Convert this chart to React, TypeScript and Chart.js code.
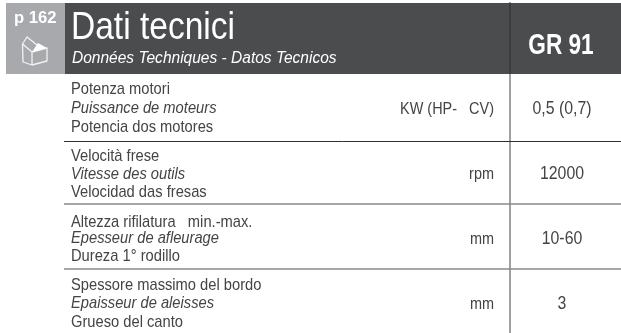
import React, { useEffect, useRef } from "react";
import { Chart, registerables } from "chart.js";

Chart.register(...registerables);

const pageRef = "p 162";
const title = "Dati tecnici";
const subtitle = "Données Techniques - Datos Tecnicos";
const model = "GR 91";
const rowItalian = ["Potenza motori", "Velocità frese", "Altezza rifilatura   min.-max.", "Spessore massimo del bordo"];
const rowFrench = ["Puissance de moteurs", "Vitesse des outils", "Epesseur de afleurage", "Epaisseur de aleisses"];
const rowSpanish = ["Potencia dos motores", "Velocidad das fresas", "Dureza 1° rodillo", "Grueso del canto"];
const units = ["KW (HP-   CV)", "rpm", "mm", "mm"];
const values = ["0,5 (0,7)", "12000", "10-60", "3"];

const W = 621;
const H = 333;
const FONT = "'Liberation Sans'";
const TEXT = "#444446";
const rowBase = [94, 161, 227, 290];
const lineGap = [19, 18, 16, 18];
const lineGap2 = [38, 36, 34, 37];
const valueBase = [114, 179, 244, 309];

function text(ctx: CanvasRenderingContext2D, s: string, x: number, y: number, font: string, color: string, sx: number, align: "left" | "right" | "center" = "left") {
  ctx.save();
  ctx.font = font;
  ctx.fillStyle = color;
  ctx.textBaseline = "alphabetic";
  ctx.textAlign = align;
  ctx.translate(x, y);
  ctx.scale(sx, 1);
  ctx.fillText(s, 0, 0);
  ctx.restore();
}

const tablePlugin = {
  id: "tablePlugin",
  beforeDatasetsDraw(chart: any) {
    const { ctx, scales } = chart;
    const X = (v: number) => scales.x.getPixelForValue(v);
    const Y = (v: number) => scales.y.getPixelForValue(v);
    ctx.save();
    ctx.fillStyle = "#a7a9ac";
    ctx.fillRect(X(6), Y(3), X(65) - X(6), Y(74) - Y(3));
    ctx.fillStyle = "#4b4c4e";
    ctx.fillRect(X(65), Y(3), X(621) - X(65), Y(74) - Y(3));
    ctx.restore();
  },
  afterDatasetsDraw(chart: any) {
    const { ctx, scales } = chart;
    const X = (v: number) => scales.x.getPixelForValue(v);
    const Y = (v: number) => scales.y.getPixelForValue(v);
    text(ctx, pageRef, X(14), Y(23), `bold 16px ${FONT}`, "#ffffff", 1.04);
    text(ctx, title, X(71), Y(39), `39px ${FONT}`, "#ffffff", 0.86);
    text(ctx, subtitle, X(72), Y(63), `italic 16px ${FONT}`, "#ffffff", 0.97);
    text(ctx, model, X(561), Y(54), `bold 29px ${FONT}`, "#ffffff", 0.78, "center");

    // box icon
    ctx.save();
    ctx.strokeStyle = "#f2f2f2";
    ctx.lineWidth = 1.3;
    ctx.lineJoin = "round";
    ctx.beginPath();
    ctx.moveTo(X(22.5), Y(44)); ctx.lineTo(X(23), Y(62)); ctx.lineTo(X(32), Y(65)); ctx.lineTo(X(47), Y(61)); ctx.lineTo(X(47), Y(48));
    ctx.lineTo(X(32), Y(52)); ctx.lineTo(X(22.5), Y(44));
    ctx.lineTo(X(27), Y(37)); ctx.lineTo(X(37), Y(45));
    ctx.moveTo(X(32), Y(52)); ctx.lineTo(X(32), Y(65));
    ctx.stroke();
    ctx.fillStyle = "#ffffff";
    ctx.beginPath();
    ctx.moveTo(X(32), Y(52)); ctx.lineTo(X(38), Y(43)); ctx.lineTo(X(47), Y(48)); ctx.closePath();
    ctx.fill();
    ctx.restore();

    rowItalian.forEach((s, i) => {
      const b = rowBase[i];
      text(ctx, s, X(71), Y(b), `17px ${FONT}`, TEXT, 0.865);
      text(ctx, rowFrench[i], X(71), Y(b + lineGap[i]), `italic 17px ${FONT}`, TEXT, 0.865);
      text(ctx, rowSpanish[i], X(71), Y(b + lineGap2[i]), `17px ${FONT}`, TEXT, 0.865);
      text(ctx, units[i], X(494), Y(valueBase[i]), `17px ${FONT}`, TEXT, 0.85, "right");
      text(ctx, values[i], X(562), Y(valueBase[i]), `18px ${FONT}`, TEXT, 0.88, "center");
    });
  },
};

export default function App() {
  const ref = useRef<HTMLCanvasElement>(null);
  useEffect(() => {
    const rule = (y: number, color: string, width: number) => ({
      data: [{ x: 64, y }, { x: 621, y }],
      borderColor: color,
      borderWidth: width,
      pointRadius: 0,
    });
    const chart = new Chart(ref.current!, {
      type: "line",
      data: {
        datasets: [
          rule(141.5, "#2e2e30", 1),
          rule(204, "#8a8a8c", 1.5),
          rule(269, "#8a8a8c", 1.5),
          { data: [{ x: 510, y: 2 }, { x: 510, y: 333 }], borderColor: "rgba(40,40,40,0.58)", borderWidth: 1.5, pointRadius: 0 },
        ],
      },
      options: {
        animation: false,
        responsive: false,
        layout: { padding: 0 },
        plugins: { legend: { display: false }, tooltip: { enabled: false } },
        scales: {
          x: { type: "linear", display: false, min: 0, max: W },
          y: { type: "linear", display: false, min: 0, max: H, reverse: true },
        },
      },
      plugins: [tablePlugin],
    } as any);
    return () => chart.destroy();
  }, []);
  return <canvas ref={ref} width={W} height={H} style={{ position: "absolute", left: 0, top: 0, display: "block" }} />;
}
